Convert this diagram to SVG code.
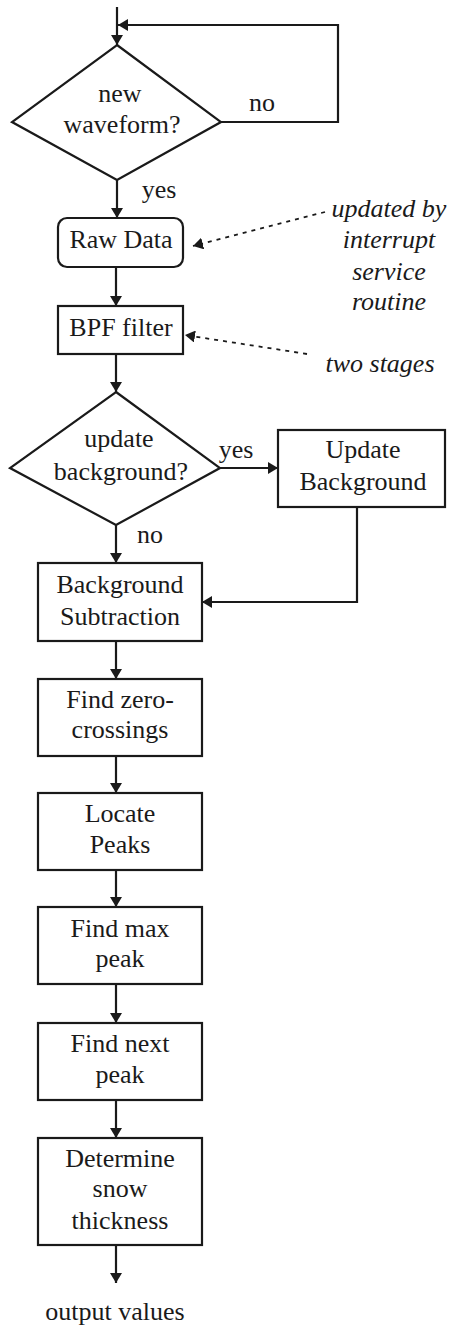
<svg xmlns="http://www.w3.org/2000/svg" width="452" height="1328" viewBox="0 0 452 1328">
<style>
.shape{fill:#fff;stroke:#1a1a1a;stroke-width:2.2}
.t{font-family:"Liberation Serif","Times New Roman",serif;font-size:26px;fill:#1a1a1a;text-anchor:middle}
.it{font-style:italic}
.ln{fill:none;stroke:#1a1a1a;stroke-width:2.2}
.dot{fill:none;stroke:#1a1a1a;stroke-width:1.8;stroke-dasharray:4 5}
</style>
<defs>
<marker id="ah" viewBox="0 0 10 12" markerWidth="10" markerHeight="12" refX="10" refY="6" orient="auto" markerUnits="userSpaceOnUse">
<path d="M0,0 L10,6 L0,12 z" fill="#1a1a1a"/>
</marker>
</defs>
<rect width="452" height="1328" fill="#fff"/>
<g id="connectors">
<line class="ln" x1="117" y1="7" x2="117" y2="45" marker-end="url(#ah)"/>
<polyline class="ln" points="221,122 338,122 338,25 118,25" marker-end="url(#ah)"/>
<line class="ln" x1="117" y1="180" x2="117" y2="218" marker-end="url(#ah)"/>
<line class="ln" x1="116" y1="267" x2="116" y2="306" marker-end="url(#ah)"/>
<line class="ln" x1="116" y1="354" x2="116" y2="392" marker-end="url(#ah)"/>
<line class="ln" x1="220" y1="468" x2="278" y2="468" marker-end="url(#ah)"/>
<polyline class="ln" points="357,507 357,602 202,602" marker-end="url(#ah)"/>
<line class="ln" x1="116" y1="525" x2="116" y2="563" marker-end="url(#ah)"/>
<line class="ln" x1="116" y1="641" x2="116" y2="679" marker-end="url(#ah)"/>
<line class="ln" x1="116" y1="756" x2="116" y2="793" marker-end="url(#ah)"/>
<line class="ln" x1="116" y1="870" x2="116" y2="907" marker-end="url(#ah)"/>
<line class="ln" x1="116" y1="984" x2="116" y2="1023" marker-end="url(#ah)"/>
<line class="ln" x1="116" y1="1100" x2="116" y2="1138" marker-end="url(#ah)"/>
<line class="ln" x1="116" y1="1245" x2="116" y2="1283" marker-end="url(#ah)"/>
<line class="dot" x1="325" y1="212" x2="193" y2="246" marker-end="url(#ah)"/>
<line class="dot" x1="307" y1="354" x2="185" y2="335" marker-end="url(#ah)"/>
<text class="t" x="262" y="111">no</text>
<text class="t" x="159" y="198">yes</text>
<text class="t" x="236" y="458">yes</text>
<text class="t" x="150" y="543">no</text>
</g>
<g id="new-waveform">
<polygon class="shape" points="117,45 221,122 117,180 12,122"/>
<text class="t" x="120" y="102">new</text>
<text class="t" x="122" y="133">waveform?</text>
</g>
<g id="raw-data">
<rect class="shape" x="58" y="218" width="125" height="49" rx="9"/>
<text class="t" x="121" y="248">Raw Data</text>
</g>
<g id="bpf-filter">
<rect class="shape" x="58" y="306" width="125" height="48"/>
<text class="t" x="121" y="336">BPF filter</text>
</g>
<g id="note-isr">
<text class="t it" x="389" y="217">updated by</text>
<text class="t it" x="389" y="248">interrupt</text>
<text class="t it" x="389" y="280">service</text>
<text class="t it" x="389" y="310">routine</text>
</g>
<g id="note-stages">
<text class="t it" x="380" y="372">two stages</text>
</g>
<g id="update-background-q">
<polygon class="shape" points="116,392 220,468 116,525 10,468"/>
<text class="t" x="119" y="447">update</text>
<text class="t" x="121" y="480">background?</text>
</g>
<g id="update-background">
<rect class="shape" x="278" y="430" width="167" height="77"/>
<text class="t" x="363" y="458">Update</text>
<text class="t" x="363" y="490">Background</text>
</g>
<g id="background-subtraction">
<rect class="shape" x="38" y="563" width="164" height="78"/>
<text class="t" x="120" y="593">Background</text>
<text class="t" x="120" y="625">Subtraction</text>
</g>
<g id="find-zero-crossings">
<rect class="shape" x="38" y="679" width="164" height="77"/>
<text class="t" x="120" y="708">Find zero-</text>
<text class="t" x="120" y="738">crossings</text>
</g>
<g id="locate-peaks">
<rect class="shape" x="38" y="793" width="164" height="77"/>
<text class="t" x="120" y="822">Locate</text>
<text class="t" x="120" y="853">Peaks</text>
</g>
<g id="find-max-peak">
<rect class="shape" x="38" y="907" width="164" height="77"/>
<text class="t" x="120" y="937">Find max</text>
<text class="t" x="120" y="967">peak</text>
</g>
<g id="find-next-peak">
<rect class="shape" x="38" y="1023" width="164" height="77"/>
<text class="t" x="120" y="1052">Find next</text>
<text class="t" x="120" y="1083">peak</text>
</g>
<g id="determine-snow-thickness">
<rect class="shape" x="38" y="1138" width="164" height="107"/>
<text class="t" x="120" y="1167">Determine</text>
<text class="t" x="120" y="1197">snow</text>
<text class="t" x="120" y="1229">thickness</text>
</g>
<g id="output-values">
<text class="t" x="115" y="1320">output values</text>
</g>
</svg>
